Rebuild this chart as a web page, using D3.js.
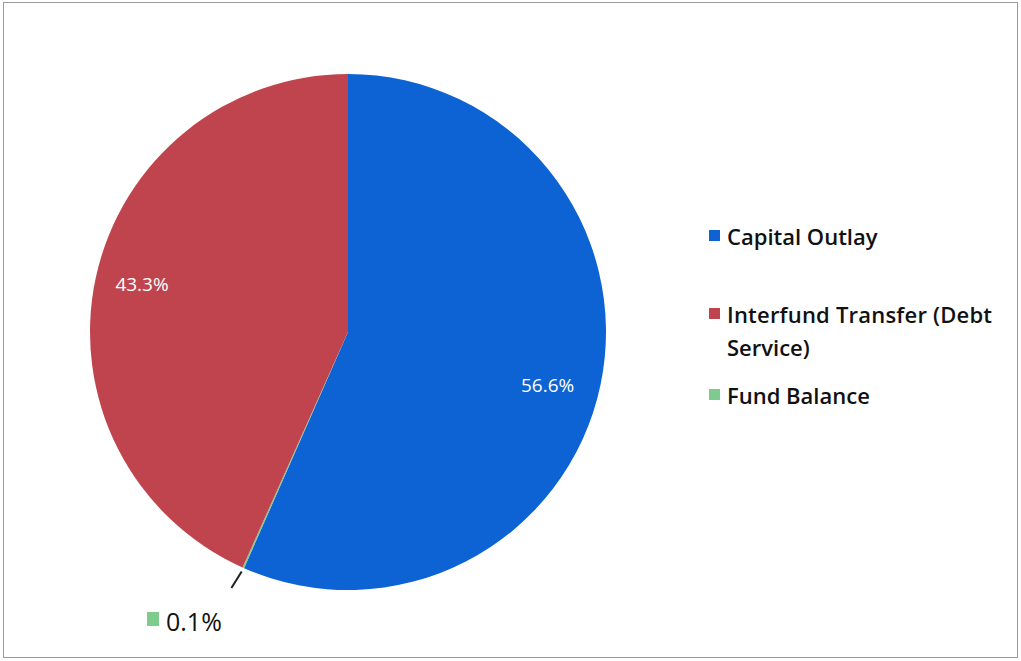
<!DOCTYPE html>
<html>
<head>
<meta charset="utf-8">
<script src="https://cdn.jsdelivr.net/npm/d3@7"></script>
<style>
  html, body { margin: 0; padding: 0; background: #fff; }
  svg { display: block; }
</style>
</head>
<body>
<svg id="chart" width="1021" height="661"></svg>
<script>
// Budget allocation shares (percent)
const categories = ["Capital Outlay", "Fund Balance", "Interfund Transfer (Debt Service)"];
const values = [56.6, 0.1, 43.3];
const colors = ["#0d63d4", "#7fcb8e", "#c0444d"];
const legendOrder = ["Capital Outlay", "Interfund Transfer (Debt Service)", "Fund Balance"];
const legendLines = [["Capital Outlay"], ["Interfund Transfer (Debt", "Service)"], ["Fund Balance"]];

const svg = d3.select("#chart");
const W = 1021, H = 661;

// outer frame
svg.append("rect")
  .attr("x", 3.5).attr("y", 2.5)
  .attr("width", W - 7).attr("height", H - 6)
  .attr("fill", "#fff")
  .attr("stroke", "#9a9a9a").attr("stroke-width", 1);

const cx = 348, cy = 332, r = 258;
const color = d3.scaleOrdinal().domain(categories).range(colors);

const pie = d3.pie().sort(null).value(d => d.v);
const data = categories.map((c, i) => ({ c, v: values[i] }));
const arcs = pie(data);
const arc = d3.arc().innerRadius(0).outerRadius(r);

const g = svg.append("g").attr("transform", `translate(${cx},${cy})`);
g.selectAll("path.slice")
  .data(arcs)
  .join("path")
  .attr("class", "slice")
  .attr("d", arc)
  .attr("fill", d => color(d.data.c));

// inside labels: radial position and angle nudge (radians) per slice
const labelFont = "'Open Sans', 'DejaVu Sans', sans-serif";
const insidePos = {
  "Capital Outlay": { k: 0.8, da: 0.05 },
  "Interfund Transfer (Debt Service)": { k: 0.82, da: 0.02 }
};
arcs.forEach(a => {
  if (a.data.c === "Fund Balance") return;
  const p = insidePos[a.data.c];
  const mid = (a.startAngle + a.endAngle) / 2 + p.da;
  const x = Math.sin(mid) * r * p.k, y = -Math.cos(mid) * r * p.k;
  g.append("text")
    .attr("x", x).attr("y", y)
    .attr("text-anchor", "middle")
    .attr("dominant-baseline", "central")
    .attr("fill", "#fff")
    .attr("font-family", labelFont)
    .attr("font-size", 19)
    .text(a.data.v.toFixed(1) + "%");
});

// small slice: leader line and outside label with key
const small = arcs.find(a => a.data.c === "Fund Balance");
const sm = (small.startAngle + small.endAngle) / 2;
const p0 = [Math.sin(sm) * (r + 4), -Math.cos(sm) * (r + 4)];
const p1 = [Math.sin(sm) * (r + 22) - 3, -Math.cos(sm) * (r + 22)];
g.append("line")
  .attr("x1", p0[0]).attr("y1", p0[1])
  .attr("x2", p1[0]).attr("y2", p1[1])
  .attr("stroke", "#222").attr("stroke-width", 2);

const outLab = svg.append("g").attr("transform", `translate(147, 620)`);
outLab.append("rect")
  .attr("x", 0).attr("y", -8).attr("width", 12).attr("height", 14)
  .attr("fill", color("Fund Balance"));
outLab.append("text")
  .attr("x", 19).attr("y", 1)
  .attr("dominant-baseline", "central")
  .attr("fill", "#111")
  .attr("font-family", "'Open Sans', sans-serif")
  .attr("font-size", 25)
  .text(small.data.v.toFixed(1) + "%");

// legend
const legendFont = "'Open Sans', sans-serif";
const legendY = [236, 314, 395];
const legend = svg.append("g");
legendOrder.forEach((c, i) => {
  const y = legendY[i];
  legend.append("rect")
    .attr("x", 709).attr("y", y - 6).attr("width", 11).attr("height", 11)
    .attr("fill", color(c));
  legendLines[i].forEach((t, j) => {
    legend.append("text")
      .attr("x", 727).attr("y", y + j * 33)
      .attr("dominant-baseline", "central")
      .attr("fill", "#111")
      .attr("font-family", legendFont)
      .attr("font-weight", 600)
      .attr("font-size", 22)
      .attr("textLength", i === 1 && j === 0 ? 265 : null)
      .text(t);
  });
});
</script>
</body>
</html>
